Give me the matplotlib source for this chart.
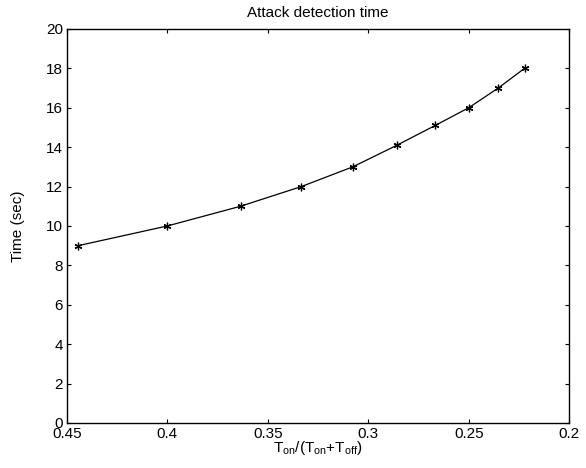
import numpy as np
import matplotlib.pyplot as plt

plt.rcParams['font.family'] = ['Liberation Sans', 'DejaVu Sans']
plt.rcParams['mathtext.fontset'] = 'custom'
plt.rcParams['mathtext.rm'] = 'Liberation Sans'

# duty cycle T_on/(T_on+T_off) and detection time
duty = [0.4444, 0.4, 0.3636, 0.3333, 0.3077, 0.2857, 0.2667, 0.25, 0.2353, 0.2222]
det_time = [9.0, 10.0, 11.0, 12.0, 13.0, 14.1, 15.1, 16.0, 17.0, 18.0]

x_ticks = [0.45, 0.4, 0.35, 0.3, 0.25, 0.2]
x_ticklabels = ['0.45', '0.4', '0.35', '0.3', '0.25', '0.2']
y_ticks = np.arange(0, 21, 2)

fig = plt.figure(figsize=(5.86, 4.68), dpi=100)
ax = fig.add_axes([0.1143, 0.0962, 0.857, 0.842])

ax.plot(duty, det_time, color='black', linewidth=0.9,
        marker=(6, 2, 0), markersize=5.5, markeredgewidth=0.9)

ax.set_xlim(0.45, 0.2)
ax.set_ylim(0, 20)
ax.set_xticks(x_ticks)
ax.set_xticklabels(x_ticklabels)
ax.set_yticks(y_ticks)
ax.tick_params(direction='in', length=3, width=0.8, labelsize=11,
               top=True, right=True, pad=3)
for s in ax.spines.values():
    s.set_linewidth(1.0)

ax.set_xlabel(r'T$_{\mathrm{on}}$/(T$_{\mathrm{on}}$+T$_{\mathrm{off}}$)', fontsize=11)
ax.xaxis.set_label_coords(0.5, -0.04)
ax.set_ylabel('Time (sec)', fontsize=11)
ax.yaxis.set_label_coords(-0.084, 0.5)
ax.set_title('Attack detection time', fontsize=11, pad=8.5)

fig.savefig('out.png', dpi=100)
